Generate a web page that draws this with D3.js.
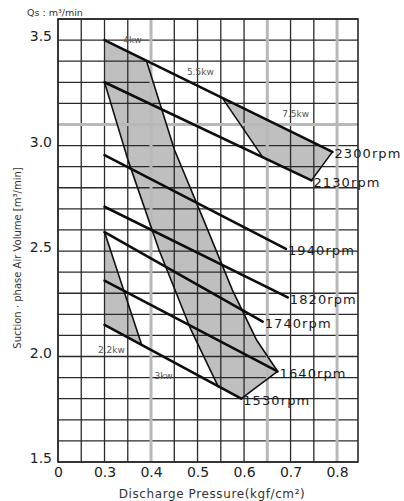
<!DOCTYPE html>
<html>
<head>
<meta charset="utf-8">
<script src="https://cdn.jsdelivr.net/npm/d3@7"></script>
<style>
  html, body { margin: 0; padding: 0; background: #fff; }
  svg { display: block; }
  text { font-family: "DejaVu Sans", "Liberation Sans", sans-serif; }
</style>
</head>
<body>
<svg id="chart" width="404" height="501"></svg>
<script>
// Axis ticks (pressure axis is broken: "0" sits one step left of 0.3)
const pressureTicks = [0.2, 0.3, 0.4, 0.5, 0.6, 0.7, 0.8];
const pressureTickLabels = ["0", "0.3", "0.4", "0.5", "0.6", "0.7", "0.8"];
const volumeTicks = [1.5, 2.0, 2.5, 3.0, 3.5];
const volumeTickLabels = ["1.5", "2.0", "2.5", "3.0", "3.5"];

// Fan speed lines: all start at 0.3 kgf/cm²
const rpmLabels = ["2300rpm", "2130rpm", "1940rpm", "1820rpm", "1740rpm", "1640rpm", "1530rpm"];
const rpmStartP = [0.3, 0.3, 0.3, 0.3, 0.3, 0.3, 0.3];
const rpmStartQ = [3.50, 3.30, 2.955, 2.71, 2.59, 2.36, 2.15];
const rpmEndP = [0.79, 0.745, 0.69, 0.694, 0.64, 0.672, 0.594];
const rpmEndQ = [2.97, 2.835, 2.51, 2.28, 2.165, 1.93, 1.80];

// Motor power limits (kW)
// 4kW / 5.5kW band – right edge (5.5kW) from the 2300rpm line down to 1640rpm end
const band55P = [0.39, 0.4505, 0.515, 0.575, 0.627, 0.672];
const band55Q = [3.403, 2.979, 2.637, 2.315, 2.078, 1.93];
// left edge (4kW) from the 2130rpm start down to the 1530rpm line
const band4P = [0.3, 0.3505, 0.4172, 0.486, 0.545];
const band4Q = [3.30, 2.931, 2.505, 2.126, 1.855];
// 7.5kW wedge between 2300rpm and 2130rpm
const wedge75P = [0.555, 0.79, 0.745, 0.64];
const wedge75Q = [3.22, 2.97, 2.835, 2.945];
// 2.2kW triangle at low speed
const tri22P = [0.3, 0.38, 0.3];
const tri22Q = [2.59, 2.055, 2.15];

const powerLabels = ["4kw", "5.5kw", "7.5kw", "2.2kw", "3kw"];
const powerLabelP = [0.36, 0.506, 0.711, 0.315, 0.427];
const powerLabelQ = [3.50, 3.348, 3.149, 2.031, 1.908];

// Highlighted grid lines
const heavyGridP = [0.4, 0.65, 0.8];
const heavyGridQ = [3.1];

const svg = d3.select("#chart");
const plot = { left: 58, right: 358, top: 19, bottom: 462 };

const x = d3.scaleLinear().domain([0.2, 0.845]).range([plot.left, plot.right]);
const y = d3.scaleLinear().domain([1.5, 3.6]).range([plot.bottom, plot.top]);

const pts = (P, Q) => P.map((p, i) => [x(p), y(Q[i])]);
const line = d3.line();

// ---- shaded power regions (under the grid) ----
const bandPoly = [[x(0.3), y(3.5)]]
  .concat(pts(band55P, band55Q))
  .concat([[x(rpmEndP[6]), y(rpmEndQ[6])]])
  .concat(pts(band4P, band4Q).reverse());
const fillColor = "#bfbfbf";
svg.append("path").attr("d", line(bandPoly) + "Z").attr("fill", fillColor);
svg.append("path").attr("d", line(pts(wedge75P, wedge75Q)) + "Z").attr("fill", fillColor);
svg.append("path").attr("d", line(pts(tri22P, tri22Q)) + "Z").attr("fill", fillColor);

// ---- grid ----
const grid = svg.append("g").attr("stroke", "#2a2a2a").attr("stroke-width", 1.3);
d3.range(0.2, 0.801, 0.05).forEach(p => {
  grid.append("line").attr("x1", x(p)).attr("x2", x(p)).attr("y1", y(1.5)).attr("y2", y(3.6));
});
d3.range(1.5, 3.601, 0.1).forEach(q => {
  grid.append("line").attr("x1", x(0.2)).attr("x2", x(0.845)).attr("y1", y(q)).attr("y2", y(q));
});
grid.append("rect")
  .attr("x", plot.left).attr("y", plot.top)
  .attr("width", plot.right - plot.left).attr("height", plot.bottom - plot.top)
  .attr("fill", "none").attr("stroke-width", 1.6);

const heavy = svg.append("g").attr("stroke", "#b8b8b8").attr("stroke-width", 3);
heavyGridP.forEach(p => {
  heavy.append("line").attr("x1", x(p)).attr("x2", x(p)).attr("y1", y(1.5) - 1).attr("y2", y(3.6) + 1);
});
heavyGridQ.forEach(q => {
  heavy.append("line").attr("x1", x(0.2) + 1).attr("x2", x(0.845) - 1).attr("y1", y(q)).attr("y2", y(q));
});

// ---- power region outlines ----
const edges = svg.append("g").attr("fill", "none").attr("stroke", "#111").attr("stroke-width", 1.6)
  .attr("stroke-linejoin", "round");
edges.append("path").attr("d", line(pts(band55P, band55Q)));
edges.append("path").attr("d", line(pts(band4P, band4Q)));
edges.append("path").attr("d", line([[x(rpmEndP[5]), y(rpmEndQ[5])], [x(rpmEndP[6]), y(rpmEndQ[6])]]));
edges.append("path").attr("d", line(pts(wedge75P.slice(0, 1).concat(wedge75P.slice(3)), wedge75Q.slice(0, 1).concat(wedge75Q.slice(3)))));
edges.append("path").attr("d", line(pts(wedge75P.slice(1, 3), wedge75Q.slice(1, 3))));
edges.append("path").attr("d", line(pts(tri22P.slice(0, 2), tri22Q.slice(0, 2))));

// ---- speed lines ----
const speed = svg.append("g").attr("stroke", "#0d0d0d").attr("stroke-width", 2.6).attr("stroke-linecap", "round");
rpmLabels.forEach((lab, i) => {
  speed.append("line")
    .attr("x1", x(rpmStartP[i])).attr("y1", y(rpmStartQ[i]))
    .attr("x2", x(rpmEndP[i])).attr("y2", y(rpmEndQ[i]));
});

// ---- speed labels ----
svg.append("g").selectAll("text").data(rpmLabels).join("text")
  .attr("x", (d, i) => x(rpmEndP[i]) + 2)
  .attr("y", (d, i) => y(rpmEndQ[i]) + 2)
  .attr("dominant-baseline", "central")
  .attr("font-size", 13)
  .attr("letter-spacing", 1.1)
  .attr("fill", "#1a1a1a")
  .text(d => d);

// ---- power labels ----
svg.append("g").selectAll("text").data(powerLabels).join("text")
  .attr("x", (d, i) => x(powerLabelP[i]))
  .attr("y", (d, i) => y(powerLabelQ[i]))
  .attr("text-anchor", "middle")
  .attr("dominant-baseline", "central")
  .attr("font-size", 9)
  .attr("fill", "#555")
  .text(d => d);

// ---- axes ----
const xAxis = d3.axisBottom(x).tickValues(pressureTicks)
  .tickFormat((d, i) => pressureTickLabels[i]).tickSize(0).tickPadding(5);
const gx = svg.append("g").attr("transform", `translate(0,${plot.bottom})`).call(xAxis);
gx.select(".domain").remove();
gx.selectAll("text").attr("font-size", 14).attr("fill", "#222")
  .attr("font-family", "DejaVu Sans, sans-serif");

const yAxis = d3.axisLeft(y).tickValues(volumeTicks)
  .tickFormat((d, i) => volumeTickLabels[i]).tickSize(0).tickPadding(6);
const gy = svg.append("g").attr("transform", `translate(${plot.left},0)`).call(yAxis);
gy.select(".domain").remove();
gy.selectAll("text").attr("font-size", 14).attr("fill", "#222").attr("dy", "0.05em")
  .attr("font-family", "DejaVu Sans, sans-serif");

// ---- titles ----
svg.append("text")
  .attr("x", 27).attr("y", 12)
  .attr("dominant-baseline", "central")
  .attr("font-size", 9.5).attr("fill", "#333")
  .text("Qs : m³/min");

svg.append("text")
  .attr("transform", "translate(17,258) rotate(-90)")
  .attr("text-anchor", "middle")
  .attr("dominant-baseline", "central")
  .attr("font-size", 10).attr("fill", "#333")
  .text("Suction · phase Air Volume [m³/min]");

svg.append("text")
  .attr("x", 212).attr("y", 494)
  .attr("text-anchor", "middle")
  .attr("dominant-baseline", "central")
  .attr("font-size", 12).attr("letter-spacing", 0.6).attr("fill", "#333")
  .text("Discharge Pressure(kgf/cm²)");
</script>
</body>
</html>
